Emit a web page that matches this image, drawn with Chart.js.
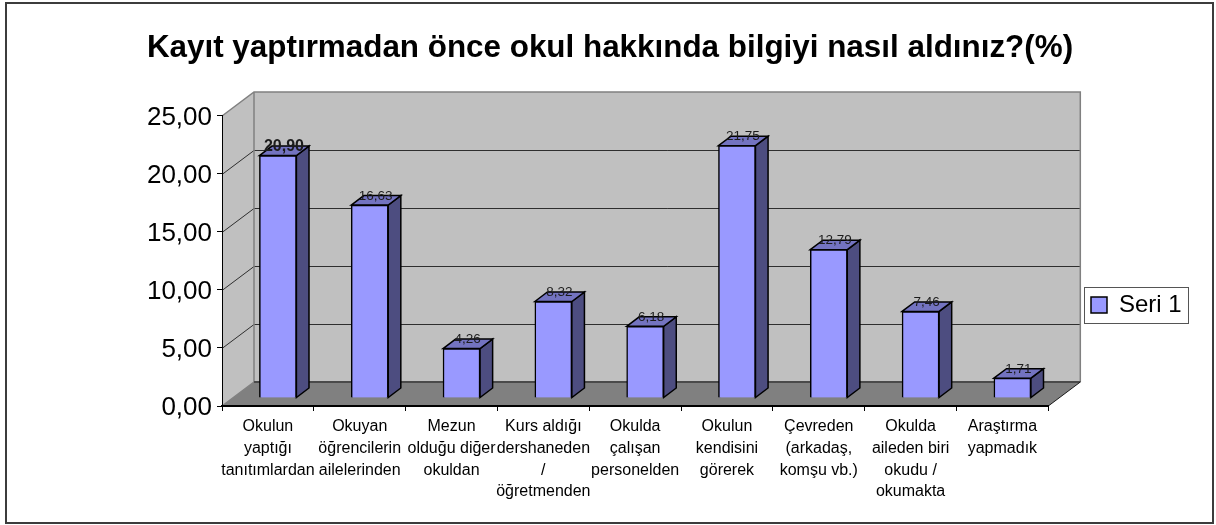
<!DOCTYPE html>
<html lang="tr">
<head>
<meta charset="utf-8">
<title>Kayıt yaptırmadan önce okul hakkında bilgiyi nasıl aldınız?(%)</title>
<script src="https://cdn.jsdelivr.net/npm/chart.js@4"></script>
<style>html,body{margin:0;padding:0;background:#fff}canvas{display:block}</style>
</head>
<body>
<canvas id="c" width="1216" height="525"></canvas>
<script>
const titleText = "Kayıt yaptırmadan önce okul hakkında bilgiyi nasıl aldınız?(%)";
const seriesName = "Seri 1";
const categories = [
  ["Okulun", "yaptığı", "tanıtımlardan"],
  ["Okuyan", "öğrencilerin", "ailelerinden"],
  ["Mezun", "olduğu diğer", "okuldan"],
  ["Kurs aldığı", "dershaneden", "/", "öğretmenden"],
  ["Okulda", "çalışan", "personelden"],
  ["Okulun", "kendisini", "görerek"],
  ["Çevreden", "(arkadaş,", "komşu vb.)"],
  ["Okulda", "aileden biri", "okudu /", "okumakta"],
  ["Araştırma", "yapmadık"]
];
const values = [20.90, 16.63, 4.26, 8.32, 6.18, 21.75, 12.79, 7.46, 1.71];

const FONT = '"Liberation Sans", Arial, sans-serif';
const comma = v => v.toFixed(2).replace('.', ',');
const DX = 32, DY = -24;          // wall depth
const BX = 10, BY = -8;           // bar offset into the floor
const FX = 12.6, FY = -9.5;       // bar depth

function poly(ctx, pts, fill, stroke, lw) {
  ctx.beginPath();
  pts.forEach((p, i) => i ? ctx.lineTo(p[0], p[1]) : ctx.moveTo(p[0], p[1]));
  ctx.closePath();
  if (fill) { ctx.fillStyle = fill; ctx.fill(); }
  if (stroke) { ctx.strokeStyle = stroke; ctx.lineWidth = lw || 1; ctx.stroke(); }
}

const threeD = {
  id: 'threeD',
  beforeDraw(chart) {
    const { ctx, scales: { x, y } } = chart;
    // place title and legend like the original
    const t = chart.titleBlock; t.left = 6; t.right = 1214;
    const l = chart.legend; const lp = l.options.labels.padding;
    l.left = 1084; l.right = 1084 + l.width; l.top = 305 - lp - 12; l.bottom = l.top + l.height;

    ctx.save();
    ctx.fillStyle = '#fff'; ctx.fillRect(0, 0, chart.width, chart.height);
    ctx.strokeStyle = '#3c3c3c'; ctx.lineWidth = 2;
    ctx.strokeRect(6, 3, 1207, 520);
    ctx.strokeStyle = '#555'; ctx.lineWidth = 1;
    ctx.strokeRect(1084.5, 287.5, 104, 36);

    const L = x.left, R = x.right, T = y.getPixelForValue(25), B = y.getPixelForValue(0);
    poly(ctx, [[L,T],[L+DX,T+DY],[L+DX,B+DY],[L,B]], '#c0c0c0');
    poly(ctx, [[L+DX,T+DY],[R+DX,T+DY],[R+DX,B+DY],[L+DX,B+DY]], '#c0c0c0');
    poly(ctx, [[L,B],[L+DX,B+DY],[R+DX,B+DY],[R,B]], '#808080');

    ctx.lineWidth = 1; ctx.strokeStyle = '#2e2e2e';
    y.ticks.forEach(tk => {
      if (tk.value === 0 || tk.value === 25) return;
      const py = Math.round(y.getPixelForValue(tk.value)) + 0.5;
      ctx.beginPath();
      ctx.moveTo(L, py); ctx.lineTo(L + DX, py + DY); ctx.lineTo(R + DX, py + DY);
      ctx.stroke();
    });
    ctx.strokeStyle = '#808080'; ctx.lineWidth = 1.5;
    ctx.beginPath();
    ctx.moveTo(L, T); ctx.lineTo(L + DX, T + DY); ctx.lineTo(R + DX, T + DY); ctx.lineTo(R + DX, B + DY);
    ctx.moveTo(L + DX, T + DY); ctx.lineTo(L + DX, B + DY);
    ctx.moveTo(L, B); ctx.lineTo(L + DX, B + DY);
    ctx.stroke();
    ctx.strokeStyle = '#4a4a4a'; ctx.lineWidth = 2;
    ctx.beginPath(); ctx.moveTo(L + DX, B + DY); ctx.lineTo(R + DX, B + DY); ctx.stroke();
    ctx.strokeStyle = '#1a1a1a'; ctx.lineWidth = 1;
    ctx.beginPath(); ctx.moveTo(R, B); ctx.lineTo(R + DX, B + DY); ctx.stroke();
    ctx.restore();
  },
  beforeDatasetsDraw(chart) {
    const ctx = chart.ctx;
    ctx.save();
    ctx.translate(BX, BY);
    chart.getDatasetMeta(0).data.forEach(el => {
      const l = el.x - el.width / 2, r = el.x + el.width / 2, t = el.y, b = el.base;
      poly(ctx, [[r,t],[r+FX,t+FY],[r+FX,b+FY],[r,b]], '#4d4d80', '#000', 1.5);
      poly(ctx, [[l,t],[l+FX,t+FY],[r+FX,t+FY],[r,t]], '#7373c0', '#000', 1.5);
    });
  },
  afterDatasetsDraw(chart) {
    const ctx = chart.ctx;
    ctx.restore();
    ctx.save();
    ctx.textAlign = 'center'; ctx.textBaseline = 'middle'; ctx.fillStyle = '#1c1c1c';
    chart.getDatasetMeta(0).data.forEach((el, i) => {
      ctx.font = (i === 0 ? 'bold 16px ' : '13.5px ') + FONT;
      ctx.fillText(comma(values[i]), el.x + BX + 6, el.y + BY - 9);
    });
    ctx.restore();
  }
};

new Chart(document.getElementById('c'), {
  type: 'bar',
  data: {
    labels: categories,
    datasets: [{
      label: seriesName,
      data: values,
      backgroundColor: '#9999ff',
      borderColor: '#000',
      borderWidth: 1.5,
      barThickness: 37,
      clip: false
    }]
  },
  plugins: [threeD],
  options: {
    responsive: false,
    animation: false,
    events: [],
    layout: { padding: { left: 0, top: 0, right: 60, bottom: 0 } },
    plugins: {
      tooltip: { enabled: false },
      title: {
        display: true,
        text: titleText,
        color: '#000',
        font: { family: FONT, size: 31.4, weight: 'bold', lineHeight: 1.2 },
        padding: { top: 30, bottom: 48.3 }
      },
      legend: {
        display: true,
        position: 'right',
        align: 'start',
        labels: {
          color: '#000',
          boxWidth: 16,
          boxHeight: 16,
          padding: 7,
          font: { family: FONT, size: 24 }
        }
      }
    },
    scales: {
      x: {
        afterFit: s => { s.height = 119; },
        border: { display: true, color: '#000', width: 2 },
        grid: { display: true, drawOnChartArea: false, drawTicks: true, tickLength: 5, color: '#000', offset: true },
        ticks: {
          color: '#000', maxRotation: 0, minRotation: 0, autoSkip: false, padding: 5,
          font: { family: FONT, size: 16, lineHeight: 1.356 }
        }
      },
      y: {
        min: 0, max: 25,
        afterFit: s => { s.width = 222; },
        border: { display: true, color: '#000', width: 1 },
        grid: { display: true, drawOnChartArea: false, drawTicks: true, tickLength: 5, color: '#000' },
        ticks: {
          stepSize: 5, color: '#000', padding: 5, labelOffset: 2,
          font: { family: FONT, size: 26 },
          callback: v => comma(v)
        }
      }
    }
  }
});
</script>
</body>
</html>
